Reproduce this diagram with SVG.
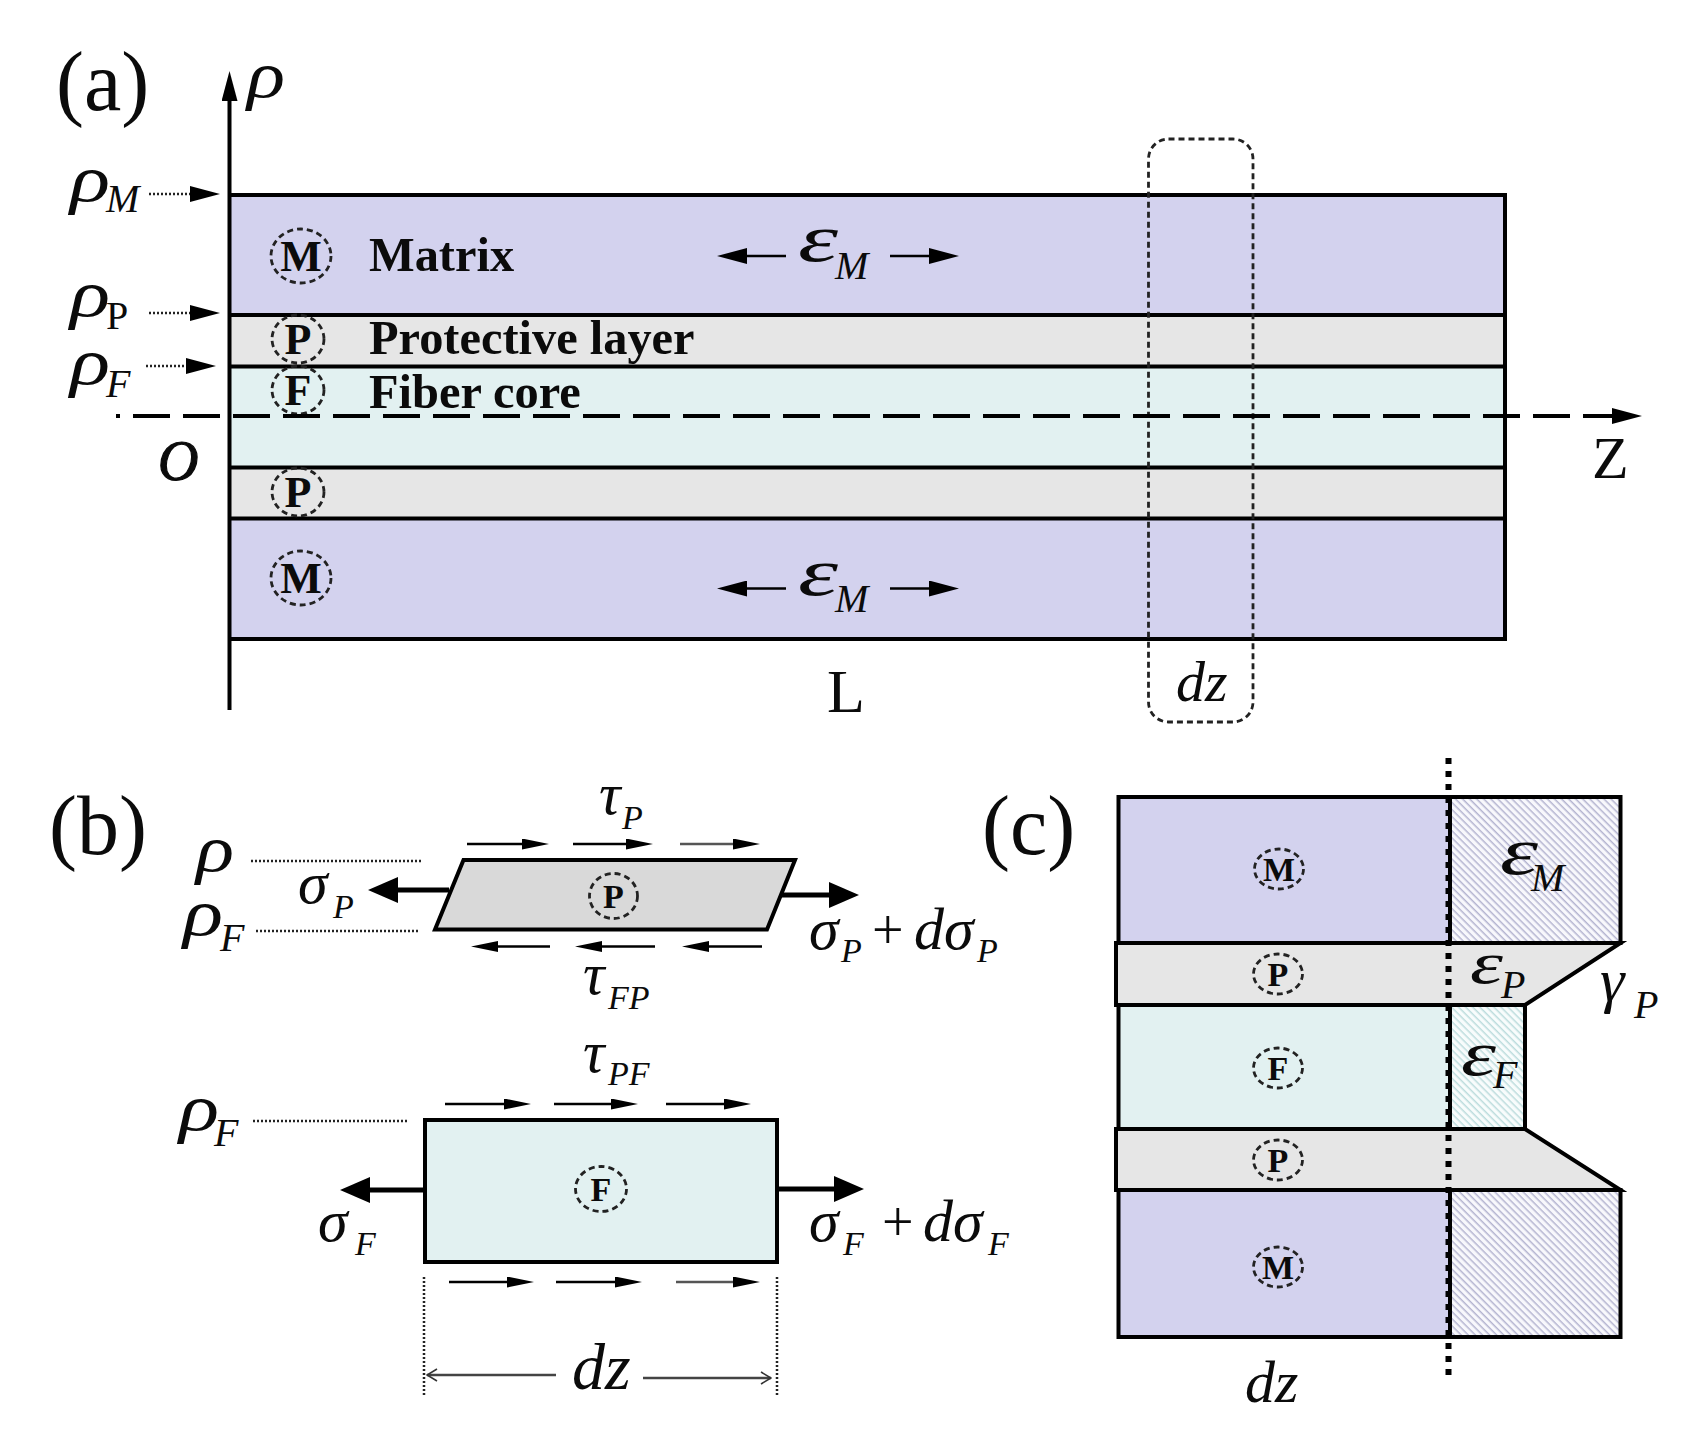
<svg xmlns="http://www.w3.org/2000/svg" width="1695" height="1444" viewBox="0 0 1695 1444">
<style>
text{font-family:"Liberation Serif","Times New Roman",serif;fill:#0b0b0b}
.i{font-style:italic}
.b{font-weight:bold}
.lb{font-size:48.400px;font-weight:bold}
.pn{font-size:84px}
.rho{font-size:66px;font-style:italic}
.sig{font-size:60px;font-style:italic}
.eps{font-size:68px;font-style:italic}
.tau{font-size:60px;font-style:italic}
.sub{font-size:40px;font-style:italic}
.ss{font-size:34px;font-style:italic}
.m{fill:#d3d2ee}.g{fill:#e6e6e6}.t{fill:#e2f1f1}
.n{fill:none;stroke:#000}
.cdash{fill:none;stroke:#222;stroke-width:2.800;stroke-dasharray:6 4}
.dot{fill:none;stroke:#222;stroke-width:2.500;stroke-dasharray:2 2}
.thin{fill:none;stroke:#000;stroke-width:2.500}
.thick{fill:none;stroke:#000;stroke-width:5}
.c1{font-size:44px;font-weight:bold;text-anchor:middle}
.c2{font-size:34px;font-weight:bold;text-anchor:middle}
</style>
<defs>
<marker id="sm" markerUnits="userSpaceOnUse" markerWidth="27" markerHeight="11" viewBox="0 0 27 11" refX="0" refY="5.500" orient="auto"><path d="M0 0L27 5.500L0 11Z" fill="#000"/></marker>
<marker id="md" markerUnits="userSpaceOnUse" markerWidth="30" markerHeight="16" viewBox="0 0 30 16" refX="0" refY="8" orient="auto"><path d="M0 0L30 8L0 16Z" fill="#000"/></marker>
<marker id="lg" markerUnits="userSpaceOnUse" markerWidth="30" markerHeight="26" viewBox="0 0 30 26" refX="0" refY="13" orient="auto"><path d="M0 0L30 13L0 26Z" fill="#000"/></marker>
<marker id="op" markerUnits="userSpaceOnUse" markerWidth="12" markerHeight="14" viewBox="0 0 12 14" refX="11" refY="7" orient="auto"><path d="M1 1L11 7L1 13" fill="none" stroke="#333" stroke-width="1.600"/></marker>
<pattern id="hm" patternUnits="userSpaceOnUse" width="5" height="5" patternTransform="rotate(45)"><rect width="5" height="5" fill="#f8f8fc"/><rect width="5" height="1.500" fill="#b4b4d0"/></pattern>
<pattern id="ht" patternUnits="userSpaceOnUse" width="5" height="5" patternTransform="rotate(45)"><rect width="5" height="5" fill="#f8fcfc"/><rect width="5" height="1.500" fill="#bcdcdd"/></pattern>
</defs>

<g id="panel-a">
<g id="a-matrix-top"><rect class="m" x="231" y="195" width="1274" height="120"/></g>
<g id="a-prot-top"><rect class="g" x="231" y="315" width="1274" height="51"/></g>
<g id="a-core"><rect class="t" x="231" y="366" width="1274" height="101"/></g>
<g id="a-prot-bot"><rect class="g" x="231" y="467" width="1274" height="51"/></g>
<g id="a-matrix-bot"><rect class="m" x="231" y="518" width="1274" height="121"/></g>
<path class="n" stroke-width="4" d="M231 195H1505V639H231M231 315H1505M231 366.500H1505M231 467.500H1505M231 518.500H1505"/>
<g id="a-circle-m1"><ellipse class="cdash" cx="301" cy="256" rx="30" ry="27"/><text class="c1" x="301" y="271">M</text></g>
<g id="a-circle-p1"><ellipse class="cdash" cx="298" cy="339" rx="26" ry="24"/><text class="c1" x="298" y="354">P</text></g>
<g id="a-circle-f"><ellipse class="cdash" cx="298" cy="390" rx="26" ry="24"/><text class="c1" x="298" y="405">F</text></g>
<g id="a-circle-p2"><ellipse class="cdash" cx="298" cy="492" rx="26" ry="24"/><text class="c1" x="298" y="507">P</text></g>
<g id="a-circle-m2"><ellipse class="cdash" cx="301" cy="578" rx="30" ry="27"/><text class="c1" x="301" y="593">M</text></g>
<text class="lb" x="369" y="271">Matrix</text>
<text class="lb" x="369" y="354">Protective layer</text>
<text class="lb" x="369" y="408">Fiber core</text>
<text class="pn" x="56" y="110">(a)</text>
<text class="rho" x="247" y="97" textLength="38" lengthAdjust="spacingAndGlyphs">ρ</text>
<text class="rho" x="70" y="201" textLength="40" lengthAdjust="spacingAndGlyphs">ρ</text><text class="sub" x="106" y="212">M</text>
<text class="rho" x="70" y="316" textLength="40" lengthAdjust="spacingAndGlyphs">ρ</text><text x="106" y="329" font-size="40">P</text>
<text class="rho" x="70" y="384" textLength="40" lengthAdjust="spacingAndGlyphs">ρ</text><text class="sub" x="106" y="397">F</text>
<text class="i" x="158" y="480" font-size="56" stroke="#0b0b0b" stroke-width="1.200">O</text>
<text x="1592" y="478" font-size="60">Z</text>
<text x="827" y="712" font-size="62">L</text>
<text class="eps" x="798" y="261" textLength="40" lengthAdjust="spacingAndGlyphs">ε</text><text class="sub" x="835" y="279">M</text>
<text class="eps" x="798" y="595" textLength="40" lengthAdjust="spacingAndGlyphs">ε</text><text class="sub" x="835" y="612">M</text>
<text class="i" x="1176" y="701" font-size="58">dz</text>
<rect class="cdash" x="1148.500" y="139" width="104.500" height="583" rx="20"/>
</g>

<g id="panel-b">
<g id="b-protective"><path d="M463.500 860H795L767 929.500H435Z" fill="#d9d9d9" stroke="#000" stroke-width="4"/><ellipse class="cdash" cx="613.500" cy="896" rx="24" ry="22.500"/><text class="c2" x="613.500" y="908">P</text></g>
<g id="b-fiber"><rect class="t" x="425" y="1120" width="352" height="142" stroke="#000" stroke-width="4"/><ellipse class="cdash" cx="601" cy="1189" rx="25.500" ry="22.500"/><text class="c2" x="601" y="1201">F</text></g>
<text class="pn" x="49" y="854">(b)</text>
<text class="rho" x="196" y="871" textLength="38" lengthAdjust="spacingAndGlyphs">ρ</text>
<text class="rho" x="183" y="935" textLength="40" lengthAdjust="spacingAndGlyphs">ρ</text><text class="sub" x="220" y="951">F</text>
<text class="rho" x="179" y="1130" textLength="40" lengthAdjust="spacingAndGlyphs">ρ</text><text class="sub" x="214" y="1146">F</text>
<text class="sig" x="298" y="903">σ</text><text class="ss" x="333" y="918">P</text>
<text class="sig" x="809" y="949">σ</text><text class="ss" x="841" y="962">P</text>
<text x="872" y="949" font-size="56">+</text>
<text class="sig" x="914" y="949">dσ</text><text class="ss" x="977" y="962">P</text>
<text class="sig" x="318" y="1241">σ</text><text class="ss" x="355" y="1255">F</text>
<text class="sig" x="809" y="1241">σ</text><text class="ss" x="843" y="1255">F</text>
<text x="882" y="1241" font-size="56">+</text>
<text class="sig" x="923" y="1241">dσ</text><text class="ss" x="988" y="1255">F</text>
<text class="tau" x="599" y="814">τ</text><text class="ss" x="622" y="829">P</text>
<text class="tau" x="583" y="994">τ</text><text class="ss" x="608" y="1009">FP</text>
<text class="tau" x="583" y="1072">τ</text><text class="ss" x="608" y="1085">PF</text>
<text class="i" x="572" y="1389" font-size="66">dz</text>
</g>

<g id="panel-c">
<g id="c-matrix-top"><rect class="m" x="1118.500" y="797" width="331.500" height="146"/><rect fill="url(#hm)" x="1450" y="797" width="170.500" height="146"/><rect class="n" stroke-width="4" x="1118.500" y="797" width="502" height="146"/></g>
<g id="c-prot-top"><path class="g" stroke="#000" stroke-width="4" d="M1116 943H1620.500L1525 1005H1116Z"/></g>
<g id="c-fiber"><rect class="t" x="1118.500" y="1005" width="331.500" height="124"/><rect fill="url(#ht)" x="1450" y="1005" width="75" height="124"/><rect class="n" stroke-width="4" x="1118.500" y="1005" width="406.500" height="124"/></g>
<g id="c-prot-bot"><path class="g" stroke="#000" stroke-width="4" d="M1116 1129H1525L1620.500 1190H1116Z"/></g>
<g id="c-matrix-bot"><rect class="m" x="1118.500" y="1190" width="331.500" height="147"/><rect fill="url(#hm)" x="1450" y="1190" width="170.500" height="147"/><rect class="n" stroke-width="4" x="1118.500" y="1190" width="502" height="147"/></g>
<path class="n" stroke-width="4" d="M1450 797V943M1450 1005V1129M1450 1190V1337"/>
<path class="n" stroke-width="6" stroke-dasharray="6 7" d="M1448.500 758V1380"/>
<g id="c-circle-m1"><ellipse class="cdash" cx="1279" cy="869" rx="24.500" ry="20"/><text class="c2" x="1279" y="881">M</text></g>
<g id="c-circle-p1"><ellipse class="cdash" cx="1278" cy="974" rx="24.500" ry="20"/><text class="c2" x="1278" y="986">P</text></g>
<g id="c-circle-f"><ellipse class="cdash" cx="1278" cy="1068" rx="24.500" ry="20"/><text class="c2" x="1278" y="1080">F</text></g>
<g id="c-circle-p2"><ellipse class="cdash" cx="1278" cy="1160" rx="24.500" ry="20"/><text class="c2" x="1278" y="1172">P</text></g>
<g id="c-circle-m2"><ellipse class="cdash" cx="1278" cy="1267" rx="24.500" ry="20"/><text class="c2" x="1278" y="1279">M</text></g>
<text class="pn" x="982" y="854">(c)</text>
<text class="eps" x="1500" y="874" textLength="38" lengthAdjust="spacingAndGlyphs">ε</text><text class="sub" x="1531" y="891">M</text>
<text class="eps" x="1470" y="983" textLength="33" lengthAdjust="spacingAndGlyphs" style="font-size:60px">ε</text><text class="sub" x="1501" y="998">P</text>
<text class="eps" x="1461" y="1075" textLength="35" lengthAdjust="spacingAndGlyphs" style="font-size:64px">ε</text><text class="sub" x="1493" y="1088">F</text>
<text class="i" x="1600" y="1001" font-size="62">γ</text><text class="sub" x="1634" y="1018">P</text>
<text class="i" x="1245" y="1402" font-size="60">dz</text>
</g>

<g id="connectors">
<path class="n" stroke-width="4" d="M229.500 710V101" marker-end="url(#md)"/>
<path class="n" stroke-width="4" stroke-dasharray="37 13" stroke-dashoffset="33" d="M116 416H1612" marker-end="url(#md)"/>
<path class="dot" d="M149 194H190" marker-end="url(#md)"/>
<path class="dot" d="M149 313H190" marker-end="url(#md)"/>
<path class="dot" d="M146 366H186" marker-end="url(#md)"/>
<path class="thin" d="M786 256H747" marker-end="url(#md)"/>
<path class="thin" d="M890 256H929" marker-end="url(#md)"/>
<path class="thin" d="M786 588.500H747" marker-end="url(#md)"/>
<path class="thin" d="M890 588.500H929" marker-end="url(#md)"/>
<path class="dot" d="M251 861H422"/>
<path class="dot" d="M256 931H419"/>
<path class="dot" d="M253 1121H407"/>
<path class="thin" d="M467 844H522" marker-end="url(#sm)"/>
<path class="thin" d="M573 844H626" marker-end="url(#sm)"/>
<path class="thin" d="M680 844H733" marker-end="url(#sm)" style="stroke:#555"/>
<path class="thin" d="M550 946.500H498" marker-end="url(#sm)"/>
<path class="thin" d="M655 946.500H602" marker-end="url(#sm)"/>
<path class="thin" d="M762 946.500H709" marker-end="url(#sm)"/>
<path class="thin" d="M445 1104H504" marker-end="url(#sm)"/>
<path class="thin" d="M554 1104H611" marker-end="url(#sm)"/>
<path class="thin" d="M666 1104H724" marker-end="url(#sm)"/>
<path class="thin" d="M449 1282H507" marker-end="url(#sm)"/>
<path class="thin" d="M556 1282H615" marker-end="url(#sm)"/>
<path class="thin" d="M676 1282H733" marker-end="url(#sm)" style="stroke:#555"/>
<path class="thick" d="M449 890H398" marker-end="url(#lg)"/>
<path class="thick" d="M780 895H829" marker-end="url(#lg)"/>
<path class="thick" d="M425 1190H370" marker-end="url(#lg)"/>
<path class="thick" d="M777 1189H834" marker-end="url(#lg)"/>
<path class="dot" d="M424 1277V1396"/>
<path class="dot" d="M777 1277V1396"/>
<path fill="none" stroke="#444" stroke-width="2.500" d="M556 1375H427" marker-end="url(#op)"/>
<path fill="none" stroke="#444" stroke-width="2.500" d="M643 1378H771" marker-end="url(#op)"/>
</g>
</svg>
